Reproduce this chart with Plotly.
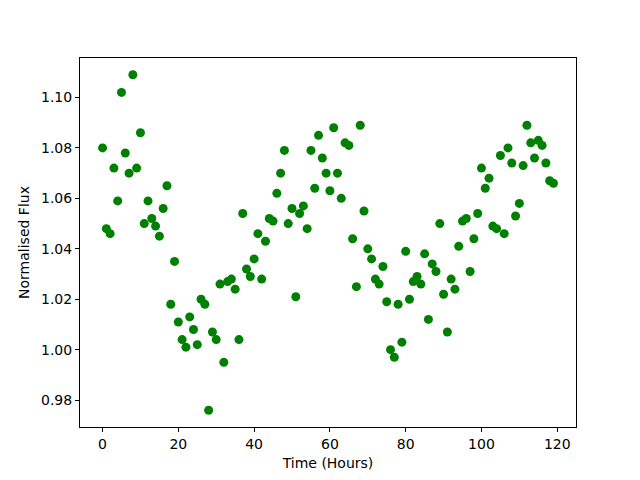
import plotly.graph_objects as go

time_hours = list(range(120))
flux = [
    1.080, 1.048, 1.046, 1.072, 1.059, 1.102, 1.078, 1.070, 1.109, 1.072,
    1.086, 1.050, 1.059, 1.052, 1.049, 1.045, 1.056, 1.065, 1.018, 1.035,
    1.011, 1.004, 1.001, 1.013, 1.008, 1.002, 1.020, 1.018, 0.976, 1.007,
    1.004, 1.026, 0.995, 1.027, 1.028, 1.024, 1.004, 1.054, 1.032, 1.029,
    1.036, 1.046, 1.028, 1.043, 1.052, 1.051, 1.062, 1.070, 1.079, 1.050,
    1.056, 1.021, 1.054, 1.057, 1.048, 1.079, 1.064, 1.085, 1.076, 1.070,
    1.063, 1.088, 1.070, 1.060, 1.082, 1.081, 1.044, 1.025, 1.089, 1.055,
    1.040, 1.036, 1.028, 1.026, 1.033, 1.019, 1.000, 0.997, 1.018, 1.003,
    1.039, 1.020, 1.027, 1.029, 1.026, 1.038, 1.012, 1.034, 1.031, 1.050,
    1.022, 1.007, 1.028, 1.024, 1.041, 1.051, 1.052, 1.031, 1.044, 1.054,
    1.072, 1.064, 1.068, 1.049, 1.048, 1.077, 1.046, 1.080, 1.074, 1.053,
    1.058, 1.073, 1.089, 1.082, 1.076, 1.083, 1.081, 1.074, 1.067, 1.066,
]
x_ticks = [0, 20, 40, 60, 80, 100, 120]
y_ticks = [0.98, 1.00, 1.02, 1.04, 1.06, 1.08, 1.10]

fig = go.Figure(go.Scatter(
    x=time_hours, y=flux, mode="markers",
    marker=dict(color="#008000", size=9, line=dict(width=0)),
))

xpad = (max(time_hours) - min(time_hours)) * 0.05
ypad = (max(flux) - min(flux)) * 0.05
axis_common = dict(
    showline=True, linecolor="black", linewidth=1, mirror=True,
    ticks="outside", ticklen=4, tickwidth=1, tickcolor="black",
    showgrid=False, zeroline=False,
    tickfont=dict(family="DejaVu Sans", size=14, color="black"),
    title_font=dict(family="DejaVu Sans", size=14, color="black"),
)
fig.update_xaxes(range=[min(time_hours) - xpad, max(time_hours) + xpad],
                 tickvals=x_ticks, title_text="Time (Hours)", title_standoff=7,
                 **axis_common)
fig.update_yaxes(range=[min(flux) - ypad, max(flux) + ypad],
                 tickvals=y_ticks, tickformat=".2f", title_text="Normalised Flux",
                 title_standoff=8, **axis_common)
fig.update_layout(
    width=632, height=472,
    margin=dict(l=72, r=64, t=50, b=53),
    paper_bgcolor="white", plot_bgcolor="white",
    showlegend=False,
    font=dict(family="DejaVu Sans"),
)
fig.write_html("out.html")
